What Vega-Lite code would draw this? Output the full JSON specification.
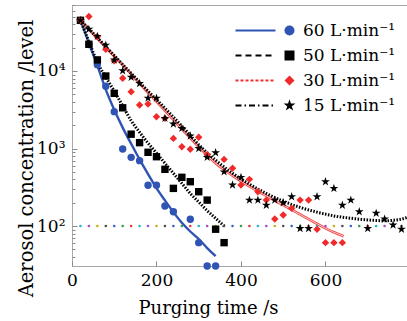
{
  "$schema": "https://vega.github.io/schema/vega-lite/v6.json",
  "width": 335,
  "height": 261,
  "autosize": {"type": "none"},
  "padding": {"left": 72, "top": 5, "right": 0, "bottom": 55},
  "config": {
    "view": {"stroke": "#a8a8a8", "strokeWidth": 1},
    "font": "DejaVu Serif",
    "axis": {"labelFont": "DejaVu Serif", "titleFont": "DejaVu Serif", "labelColor": "black", "titleColor": "black", "titleFontWeight": "normal", "grid": false, "domain": false, "tickColor": "#8a8a8a", "tickWidth": 1}
  },
  "datasets": {
    "pts": [
      {"s": "60 L·min⁻¹", "t": 20, "c": 45000}, {"s": "60 L·min⁻¹", "t": 40, "c": 22000}, {"s": "60 L·min⁻¹", "t": 60, "c": 12000}, {"s": "60 L·min⁻¹", "t": 80, "c": 6350}, {"s": "60 L·min⁻¹", "t": 100, "c": 2990}, {"s": "60 L·min⁻¹", "t": 120, "c": 985}, {"s": "60 L·min⁻¹", "t": 140, "c": 769}, {"s": "60 L·min⁻¹", "t": 160, "c": 697}, {"s": "60 L·min⁻¹", "t": 180, "c": 335}, {"s": "60 L·min⁻¹", "t": 200, "c": 335}, {"s": "60 L·min⁻¹", "t": 220, "c": 181}, {"s": "60 L·min⁻¹", "t": 240, "c": 153}, {"s": "60 L·min⁻¹", "t": 280, "c": 122}, {"s": "60 L·min⁻¹", "t": 300, "c": 61}, {"s": "60 L·min⁻¹", "t": 320, "c": 30.5}, {"s": "60 L·min⁻¹", "t": 340, "c": 30.5},
      {"s": "50 L·min⁻¹", "t": 20, "c": 45000}, {"s": "50 L·min⁻¹", "t": 40, "c": 22100}, {"s": "50 L·min⁻¹", "t": 60, "c": 13900}, {"s": "50 L·min⁻¹", "t": 80, "c": 8610}, {"s": "50 L·min⁻¹", "t": 100, "c": 5150}, {"s": "50 L·min⁻¹", "t": 120, "c": 3350}, {"s": "50 L·min⁻¹", "t": 140, "c": 1530}, {"s": "50 L·min⁻¹", "t": 160, "c": 1190}, {"s": "50 L·min⁻¹", "t": 180, "c": 893}, {"s": "50 L·min⁻¹", "t": 200, "c": 784}, {"s": "50 L·min⁻¹", "t": 220, "c": 539}, {"s": "50 L·min⁻¹", "t": 240, "c": 306}, {"s": "50 L·min⁻¹", "t": 260, "c": 425}, {"s": "50 L·min⁻¹", "t": 280, "c": 373}, {"s": "50 L·min⁻¹", "t": 300, "c": 277}, {"s": "50 L·min⁻¹", "t": 320, "c": 216}, {"s": "50 L·min⁻¹", "t": 340, "c": 91}, {"s": "50 L·min⁻¹", "t": 360, "c": 61},
      {"s": "30 L·min⁻¹", "t": 20, "c": 45000}, {"s": "30 L·min⁻¹", "t": 40, "c": 50500}, {"s": "30 L·min⁻¹", "t": 60, "c": 27700}, {"s": "30 L·min⁻¹", "t": 80, "c": 19000}, {"s": "30 L·min⁻¹", "t": 100, "c": 13500}, {"s": "30 L·min⁻¹", "t": 120, "c": 8050}, {"s": "30 L·min⁻¹", "t": 140, "c": 5400}, {"s": "30 L·min⁻¹", "t": 160, "c": 3640}, {"s": "30 L·min⁻¹", "t": 180, "c": 3750}, {"s": "30 L·min⁻¹", "t": 200, "c": 2570}, {"s": "30 L·min⁻¹", "t": 220, "c": 2450}, {"s": "30 L·min⁻¹", "t": 240, "c": 1350}, {"s": "30 L·min⁻¹", "t": 260, "c": 1055}, {"s": "30 L·min⁻¹", "t": 280, "c": 980}, {"s": "30 L·min⁻¹", "t": 300, "c": 1400}, {"s": "30 L·min⁻¹", "t": 320, "c": 830}, {"s": "30 L·min⁻¹", "t": 360, "c": 724}, {"s": "30 L·min⁻¹", "t": 380, "c": 556}, {"s": "30 L·min⁻¹", "t": 400, "c": 338}, {"s": "30 L·min⁻¹", "t": 420, "c": 400}, {"s": "30 L·min⁻¹", "t": 440, "c": 277}, {"s": "30 L·min⁻¹", "t": 460, "c": 216}, {"s": "30 L·min⁻¹", "t": 480, "c": 123}, {"s": "30 L·min⁻¹", "t": 500, "c": 139}, {"s": "30 L·min⁻¹", "t": 520, "c": 169}, {"s": "30 L·min⁻¹", "t": 540, "c": 216}, {"s": "30 L·min⁻¹", "t": 560, "c": 216}, {"s": "30 L·min⁻¹", "t": 580, "c": 91}, {"s": "30 L·min⁻¹", "t": 600, "c": 61}, {"s": "30 L·min⁻¹", "t": 620, "c": 61}, {"s": "30 L·min⁻¹", "t": 640, "c": 61},
      {"s": "15 L·min⁻¹", "t": 20, "c": 45000}, {"s": "15 L·min⁻¹", "t": 40, "c": 34500}, {"s": "15 L·min⁻¹", "t": 60, "c": 28000}, {"s": "15 L·min⁻¹", "t": 80, "c": 21600}, {"s": "15 L·min⁻¹", "t": 100, "c": 13900}, {"s": "15 L·min⁻¹", "t": 120, "c": 10100}, {"s": "15 L·min⁻¹", "t": 140, "c": 8300}, {"s": "15 L·min⁻¹", "t": 160, "c": 6900}, {"s": "15 L·min⁻¹", "t": 180, "c": 4470}, {"s": "15 L·min⁻¹", "t": 200, "c": 4470}, {"s": "15 L·min⁻¹", "t": 220, "c": 2450}, {"s": "15 L·min⁻¹", "t": 240, "c": 2070}, {"s": "15 L·min⁻¹", "t": 260, "c": 1820}, {"s": "15 L·min⁻¹", "t": 280, "c": 1450}, {"s": "15 L·min⁻¹", "t": 300, "c": 1000}, {"s": "15 L·min⁻¹", "t": 320, "c": 769}, {"s": "15 L·min⁻¹", "t": 340, "c": 883}, {"s": "15 L·min⁻¹", "t": 360, "c": 500}, {"s": "15 L·min⁻¹", "t": 380, "c": 339}, {"s": "15 L·min⁻¹", "t": 400, "c": 425}, {"s": "15 L·min⁻¹", "t": 420, "c": 216}, {"s": "15 L·min⁻¹", "t": 440, "c": 216}, {"s": "15 L·min⁻¹", "t": 460, "c": 186}, {"s": "15 L·min⁻¹", "t": 480, "c": 216}, {"s": "15 L·min⁻¹", "t": 500, "c": 200}, {"s": "15 L·min⁻¹", "t": 520, "c": 239}, {"s": "15 L·min⁻¹", "t": 540, "c": 93}, {"s": "15 L·min⁻¹", "t": 560, "c": 93}, {"s": "15 L·min⁻¹", "t": 580, "c": 239}, {"s": "15 L·min⁻¹", "t": 600, "c": 373}, {"s": "15 L·min⁻¹", "t": 620, "c": 306}, {"s": "15 L·min⁻¹", "t": 640, "c": 186}, {"s": "15 L·min⁻¹", "t": 660, "c": 216}, {"s": "15 L·min⁻¹", "t": 680, "c": 153}, {"s": "15 L·min⁻¹", "t": 700, "c": 93}, {"s": "15 L·min⁻¹", "t": 720, "c": 146}, {"s": "15 L·min⁻¹", "t": 740, "c": 123}, {"s": "15 L·min⁻¹", "t": 760, "c": 103}, {"s": "15 L·min⁻¹", "t": 780, "c": 91}
    ],
    "fit": [
      {"f": "60", "t": 20, "c": 45700}, {"f": "60", "t": 40, "c": 22900}, {"f": "60", "t": 60, "c": 11750}, {"f": "60", "t": 80, "c": 5750}, {"f": "60", "t": 100, "c": 3160}, {"f": "60", "t": 120, "c": 1860}, {"f": "60", "t": 140, "c": 1150}, {"f": "60", "t": 160, "c": 724}, {"f": "60", "t": 180, "c": 468}, {"f": "60", "t": 200, "c": 309}, {"f": "60", "t": 220, "c": 214}, {"f": "60", "t": 240, "c": 151}, {"f": "60", "t": 260, "c": 110}, {"f": "60", "t": 280, "c": 85}, {"f": "60", "t": 300, "c": 68}, {"f": "60", "t": 320, "c": 52}, {"f": "60", "t": 340, "c": 41},
      {"f": "50", "t": 20, "c": 44700}, {"f": "50", "t": 40, "c": 24000}, {"f": "50", "t": 60, "c": 12900}, {"f": "50", "t": 80, "c": 8300}, {"f": "50", "t": 100, "c": 5500}, {"f": "50", "t": 120, "c": 3550}, {"f": "50", "t": 140, "c": 2290}, {"f": "50", "t": 160, "c": 1620}, {"f": "50", "t": 180, "c": 1175}, {"f": "50", "t": 200, "c": 871}, {"f": "50", "t": 220, "c": 646}, {"f": "50", "t": 240, "c": 479}, {"f": "50", "t": 260, "c": 355}, {"f": "50", "t": 280, "c": 263}, {"f": "50", "t": 300, "c": 204}, {"f": "50", "t": 320, "c": 158}, {"f": "50", "t": 340, "c": 126}, {"f": "50", "t": 362, "c": 98},
      {"f": "30", "t": 20, "c": 44700}, {"f": "30", "t": 60, "c": 26300}, {"f": "30", "t": 100, "c": 15500}, {"f": "30", "t": 140, "c": 9120}, {"f": "30", "t": 180, "c": 5250}, {"f": "30", "t": 220, "c": 3090}, {"f": "30", "t": 260, "c": 1780}, {"f": "30", "t": 300, "c": 1050}, {"f": "30", "t": 340, "c": 646}, {"f": "30", "t": 380, "c": 447}, {"f": "30", "t": 420, "c": 324}, {"f": "30", "t": 460, "c": 245}, {"f": "30", "t": 500, "c": 186}, {"f": "30", "t": 540, "c": 141}, {"f": "30", "t": 580, "c": 107}, {"f": "30", "t": 620, "c": 83}, {"f": "30", "t": 643, "c": 74},
      {"f": "15", "t": 20, "c": 45700}, {"f": "15", "t": 60, "c": 26900}, {"f": "15", "t": 100, "c": 15800}, {"f": "15", "t": 140, "c": 9330}, {"f": "15", "t": 180, "c": 5500}, {"f": "15", "t": 220, "c": 3310}, {"f": "15", "t": 260, "c": 1950}, {"f": "15", "t": 300, "c": 1120}, {"f": "15", "t": 340, "c": 708}, {"f": "15", "t": 380, "c": 479}, {"f": "15", "t": 420, "c": 347}, {"f": "15", "t": 460, "c": 263}, {"f": "15", "t": 500, "c": 209}, {"f": "15", "t": 540, "c": 174}, {"f": "15", "t": 580, "c": 151}, {"f": "15", "t": 620, "c": 135}, {"f": "15", "t": 660, "c": 126}, {"f": "15", "t": 700, "c": 120}, {"f": "15", "t": 740, "c": 117}, {"f": "15", "t": 780, "c": 123}, {"f": "15", "t": 793, "c": 129}
    ],
    "ref": [
      {"t": 20, "c": 100, "k": 0}, {"t": 40, "c": 100, "k": 1}, {"t": 60, "c": 100, "k": 2}, {"t": 80, "c": 100, "k": 3}, {"t": 100, "c": 100, "k": 4}, {"t": 120, "c": 100, "k": 5}, {"t": 140, "c": 100, "k": 6},
      {"t": 160, "c": 100, "k": 0}, {"t": 180, "c": 100, "k": 1}, {"t": 200, "c": 100, "k": 2}, {"t": 220, "c": 100, "k": 3}, {"t": 240, "c": 100, "k": 4}, {"t": 260, "c": 100, "k": 5}, {"t": 280, "c": 100, "k": 6},
      {"t": 300, "c": 100, "k": 0}, {"t": 320, "c": 100, "k": 1}, {"t": 340, "c": 100, "k": 2}, {"t": 360, "c": 100, "k": 3}, {"t": 380, "c": 100, "k": 4}, {"t": 400, "c": 100, "k": 5}, {"t": 420, "c": 100, "k": 6},
      {"t": 440, "c": 100, "k": 0}, {"t": 460, "c": 100, "k": 1}, {"t": 480, "c": 100, "k": 2}, {"t": 500, "c": 100, "k": 3}, {"t": 520, "c": 100, "k": 4}, {"t": 540, "c": 100, "k": 5}, {"t": 560, "c": 100, "k": 6},
      {"t": 580, "c": 100, "k": 0}, {"t": 600, "c": 100, "k": 1}, {"t": 620, "c": 100, "k": 2}, {"t": 640, "c": 100, "k": 3}, {"t": 660, "c": 100, "k": 4}, {"t": 680, "c": 100, "k": 5}, {"t": 700, "c": 100, "k": 6},
      {"t": 720, "c": 100, "k": 0}, {"t": 740, "c": 100, "k": 1}, {"t": 760, "c": 100, "k": 2}, {"t": 780, "c": 100, "k": 3}
    ]
  },
  "encoding": {
    "x": {"field": "t", "type": "quantitative", "scale": {"domain": [0, 793], "nice": false, "zero": false},
      "axis": {"values": [0, 200, 400, 600], "tickSize": -5, "labelFontSize": 17, "labelPadding": 11, "labelFlush": false, "title": "Purging time /s", "titleFontSize": 18, "titleX": 136, "titleY": 47, "titleBaseline": "alphabetic", "titleAlign": "center", "titleAnchor": null}},
    "y": {"field": "c", "type": "quantitative", "scale": {"type": "log", "domain": [30.5, 71000], "nice": false},
      "axis": {"values": [40, 50, 60, 70, 80, 90, 100, 200, 300, 400, 500, 600, 700, 800, 900, 1000, 2000, 3000, 4000, 5000, 6000, 7000, 8000, 9000, 10000, 20000, 30000, 40000, 50000, 60000, 70000],
        "tickSize": {"condition": {"test": "datum.value == 100 || datum.value == 1000 || datum.value == 10000", "value": -5}, "value": -3},
        "labelExpr": "datum.value == 100 ? '10²' : datum.value == 1000 ? '10³' : datum.value == 10000 ? '10⁴' : ''",
        "labelOverlap": false, "labelFontSize": 17, "labelPadding": 12, "labelFlush": false,
        "title": "Aerosol concentration /level", "titleFontSize": 19.5, "titleX": -40, "titleY": 153, "titleAngle": 270, "titleBaseline": "alphabetic", "titleAlign": "center", "titleAnchor": null}}
  },
  "layer": [
    {"data": {"name": "fit"}, "transform": [{"filter": "datum.f == '60'"}],
      "mark": {"type": "line", "interpolate": "monotone", "stroke": "#2f54b4", "strokeWidth": 2.4}},
    {"data": {"name": "fit"}, "transform": [{"filter": "datum.f == '50'"}],
      "mark": {"type": "line", "interpolate": "monotone", "stroke": "black", "strokeWidth": 3, "strokeDash": [1.5, 1.5]}},
    {"data": {"name": "fit"}, "transform": [{"filter": "datum.f == '30'"}],
      "mark": {"type": "line", "interpolate": "monotone", "stroke": "#f04848", "strokeWidth": 2.6}},
    {"data": {"name": "fit"}, "transform": [{"filter": "datum.f == '30'"}],
      "mark": {"type": "line", "interpolate": "monotone", "stroke": "#ffd4d4", "strokeWidth": 0.9}},
    {"data": {"name": "fit"}, "transform": [{"filter": "datum.f == '15'"}],
      "mark": {"type": "line", "interpolate": "monotone", "stroke": "black", "strokeWidth": 3, "strokeDash": [1.5, 1.5]}},
    {"data": {"name": "ref"},
      "mark": {"type": "point", "filled": true, "size": 7, "opacity": 1},
      "encoding": {"color": {"field": "k", "type": "nominal", "legend": null,
        "scale": {"domain": [0, 1, 2, 3, 4, 5, 6], "range": ["#22b8c8", "#a44fc8", "#c0b020", "#505050", "#3a62d0", "#3a9a50", "#e03a3a"]}}}},
    {"data": {"values": [{"lg": "a60", "t": 0, "c": 100}, {"lg": "a50", "t": 0, "c": 100}, {"lg": "a30", "t": 0, "c": 100}, {"lg": "a15", "t": 0, "c": 100}]},
      "transform": [{"filter": "false"}],
      "mark": {"type": "line", "strokeWidth": 2},
      "encoding": {
        "stroke": {"field": "lg", "type": "nominal", "scale": {"domain": ["a60", "a50", "a30", "a15"], "range": ["#2f54b4", "black", "#f03030", "black"]},
          "legend": {"orient": "none", "legendX": 175, "legendY": 17, "title": null, "symbolType": "M-4,0H4", "symbolSize": 100, "symbolStrokeWidth": 2, "labelOpacity": 0, "labelFontSize": 17, "rowPadding": 7, "padding": 0, "labelFont": "DejaVu Serif"}},
        "strokeDash": {"field": "lg", "type": "nominal", "scale": {"domain": ["a60", "a50", "a30", "a15"], "range": [[1, 0], [6, 4], [3, 2], [6, 3, 1.5, 3]]},
          "legend": {"orient": "none", "legendX": 175, "legendY": 17, "title": null, "symbolType": "M-4,0H4", "symbolSize": 100, "symbolStrokeWidth": 2, "labelOpacity": 0, "labelFontSize": 17, "rowPadding": 7, "padding": 0, "labelFont": "DejaVu Serif"}}
      }},
    {"data": {"name": "pts"},
      "mark": {"type": "point", "filled": true, "size": 55, "opacity": 1},
      "encoding": {
        "fill": {"field": "s", "type": "nominal", "sort": null,
          "scale": {"domain": ["60 L·min⁻¹", "50 L·min⁻¹", "30 L·min⁻¹", "15 L·min⁻¹"], "range": ["#2f54b4", "black", "#f02a2a", "black"]},
          "legend": {"orient": "none", "legendX": 209, "legendY": 17, "title": null, "symbolSize": 100, "symbolStrokeWidth": 0, "labelFontSize": 17, "labelOffset": 5, "rowPadding": 7, "padding": 0, "labelColor": "black", "labelFont": "DejaVu Serif"}},
        "shape": {"field": "s", "type": "nominal", "sort": null,
          "scale": {"domain": ["60 L·min⁻¹", "50 L·min⁻¹", "30 L·min⁻¹", "15 L·min⁻¹"], "range": ["circle", "square", "diamond", "M0,-1.25L0.281,-0.386L1.189,-0.386L0.454,0.148L0.735,1.011L0,0.478L-0.735,1.011L-0.454,0.148L-1.189,-0.386L-0.281,-0.386Z"]},
          "legend": {"orient": "none", "legendX": 209, "legendY": 17, "title": null, "symbolSize": 100, "symbolStrokeWidth": 0, "labelFontSize": 17, "labelOffset": 5, "rowPadding": 7, "padding": 0, "labelColor": "black", "labelFont": "DejaVu Serif"}}
      }}
  ]
}
